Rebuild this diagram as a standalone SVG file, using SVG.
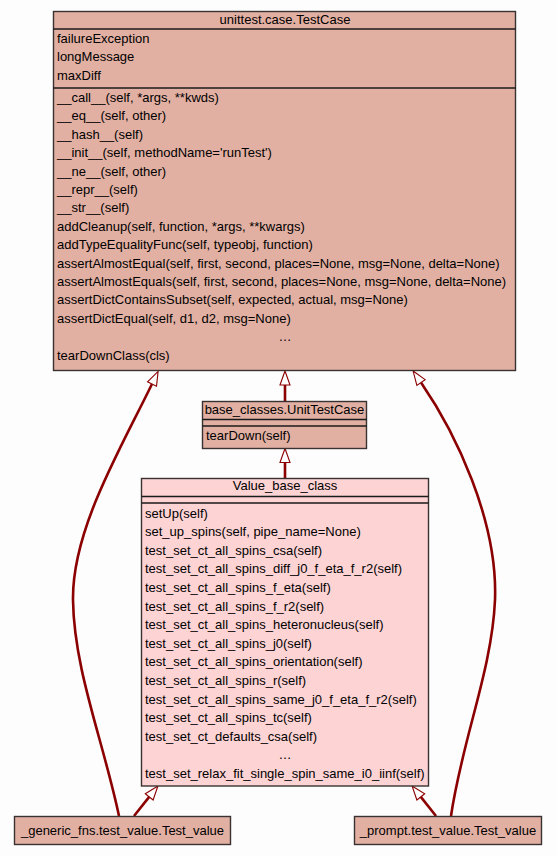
<svg xmlns="http://www.w3.org/2000/svg" width="557" height="856" viewBox="0 0 557 856">
<defs>
<style>
.bg{fill:#fcfdfc}
.box{stroke:#3a3232;stroke-width:1.4}
.dark{fill:#e2b0a3}
.light{fill:#fdd3d4}
.sep{stroke:#1a1a1a;stroke-width:1.4}
text{font-family:"Liberation Sans",Arial,sans-serif;font-size:13px;fill:#000}
.c{text-anchor:middle}
.edge{fill:none;stroke:#8b0000;stroke-width:2.6}
</style>
<marker id="inh" markerUnits="userSpaceOnUse" markerWidth="18" markerHeight="14" viewBox="-1 -7 18 14" refX="0" refY="0" orient="auto">
<path d="M0,-5 L14,0 L0,5 Z" fill="#ffffff" stroke="#8b0000" stroke-width="1.1"/>
</marker>
</defs>
<rect class="bg" x="0" y="0" width="557" height="856"/>

<g id="connectors">
<path class="edge" marker-end="url(#inh)" d="M285,401.5 L285,385"/>
<path class="edge" marker-end="url(#inh)" d="M285,478 L285,462.5"/>
<path class="edge" marker-end="url(#inh)" d="M119,816 C103,740 74,670 73,600 C72,530 120,450 152,384"/>
<path class="edge" marker-end="url(#inh)" d="M451,816 C462,740 492,670 495,600 C498,520 455,432 421,382.5"/>
<path class="edge" marker-end="url(#inh)" d="M134,816 L149.2,796.9"/>
<path class="edge" marker-end="url(#inh)" d="M436,816 L420.8,796.9"/>
</g>

<g id="TestCase">
<rect class="box dark" x="53.5" y="11.5" width="462" height="359"/>
<line class="sep" x1="53.5" y1="29" x2="515.5" y2="29"/>
<line class="sep" x1="53.5" y1="88" x2="515.5" y2="88"/>
<text class="c" x="285" y="24">unittest.case.TestCase</text>
<text x="57" y="43">failureException</text>
<text x="57" y="61.4">longMessage</text>
<text x="57" y="79.8">maxDiff</text>
<text x="57" y="102">__call__(self, *args, **kwds)</text>
<text x="57" y="120.4">__eq__(self, other)</text>
<text x="57" y="138.8">__hash__(self)</text>
<text x="57" y="157.2">__init__(self, methodName='runTest')</text>
<text x="57" y="175.6">__ne__(self, other)</text>
<text x="57" y="194">__repr__(self)</text>
<text x="57" y="212.4">__str__(self)</text>
<text x="57" y="230.8">addCleanup(self, function, *args, **kwargs)</text>
<text x="57" y="249.2">addTypeEqualityFunc(self, typeobj, function)</text>
<text x="57" y="267.6">assertAlmostEqual(self, first, second, places=None, msg=None, delta=None)</text>
<text x="57" y="286">assertAlmostEquals(self, first, second, places=None, msg=None, delta=None)</text>
<text x="57" y="304.4">assertDictContainsSubset(self, expected, actual, msg=None)</text>
<text x="57" y="322.8">assertDictEqual(self, d1, d2, msg=None)</text>
<text class="c" x="285" y="341.2">…</text>
<text x="57" y="359.6">tearDownClass(cls)</text>
</g>

<g id="UnitTestCase">
<rect class="box dark" x="202.5" y="401.5" width="164" height="47"/>
<line class="sep" x1="202.5" y1="419.5" x2="366.5" y2="419.5"/>
<line class="sep" x1="202.5" y1="426" x2="366.5" y2="426"/>
<text class="c" x="284.5" y="414">base_classes.UnitTestCase</text>
<text x="206" y="440">tearDown(self)</text>
</g>

<g id="Value_base_class">
<rect class="box light" x="141.5" y="478.5" width="287" height="307.5"/>
<line class="sep" x1="141.5" y1="496.5" x2="428.5" y2="496.5"/>
<line class="sep" x1="141.5" y1="503" x2="428.5" y2="503"/>
<text class="c" x="285" y="490">Value_base_class</text>
<text x="145" y="517.5">setUp(self)</text>
<text x="145" y="536.1">set_up_spins(self, pipe_name=None)</text>
<text x="145" y="554.7">test_set_ct_all_spins_csa(self)</text>
<text x="145" y="573.3">test_set_ct_all_spins_diff_j0_f_eta_f_r2(self)</text>
<text x="145" y="591.9">test_set_ct_all_spins_f_eta(self)</text>
<text x="145" y="610.5">test_set_ct_all_spins_f_r2(self)</text>
<text x="145" y="629.1">test_set_ct_all_spins_heteronucleus(self)</text>
<text x="145" y="647.7">test_set_ct_all_spins_j0(self)</text>
<text x="145" y="666.3">test_set_ct_all_spins_orientation(self)</text>
<text x="145" y="684.9">test_set_ct_all_spins_r(self)</text>
<text x="145" y="703.5">test_set_ct_all_spins_same_j0_f_eta_f_r2(self)</text>
<text x="145" y="722.1">test_set_ct_all_spins_tc(self)</text>
<text x="145" y="740.7">test_set_ct_defaults_csa(self)</text>
<text class="c" x="285" y="759.3">…</text>
<text x="145" y="777.9">test_set_relax_fit_single_spin_same_i0_iinf(self)</text>
</g>

<g id="generic_Test_value">
<rect class="box dark" x="14.5" y="816.5" width="216" height="28"/>
<text class="c" x="122.5" y="834.5">_generic_fns.test_value.Test_value</text>
</g>

<g id="prompt_Test_value">
<rect class="box dark" x="354.5" y="816.5" width="187" height="28"/>
<text class="c" x="448" y="834.5">_prompt.test_value.Test_value</text>
</g>
</svg>
